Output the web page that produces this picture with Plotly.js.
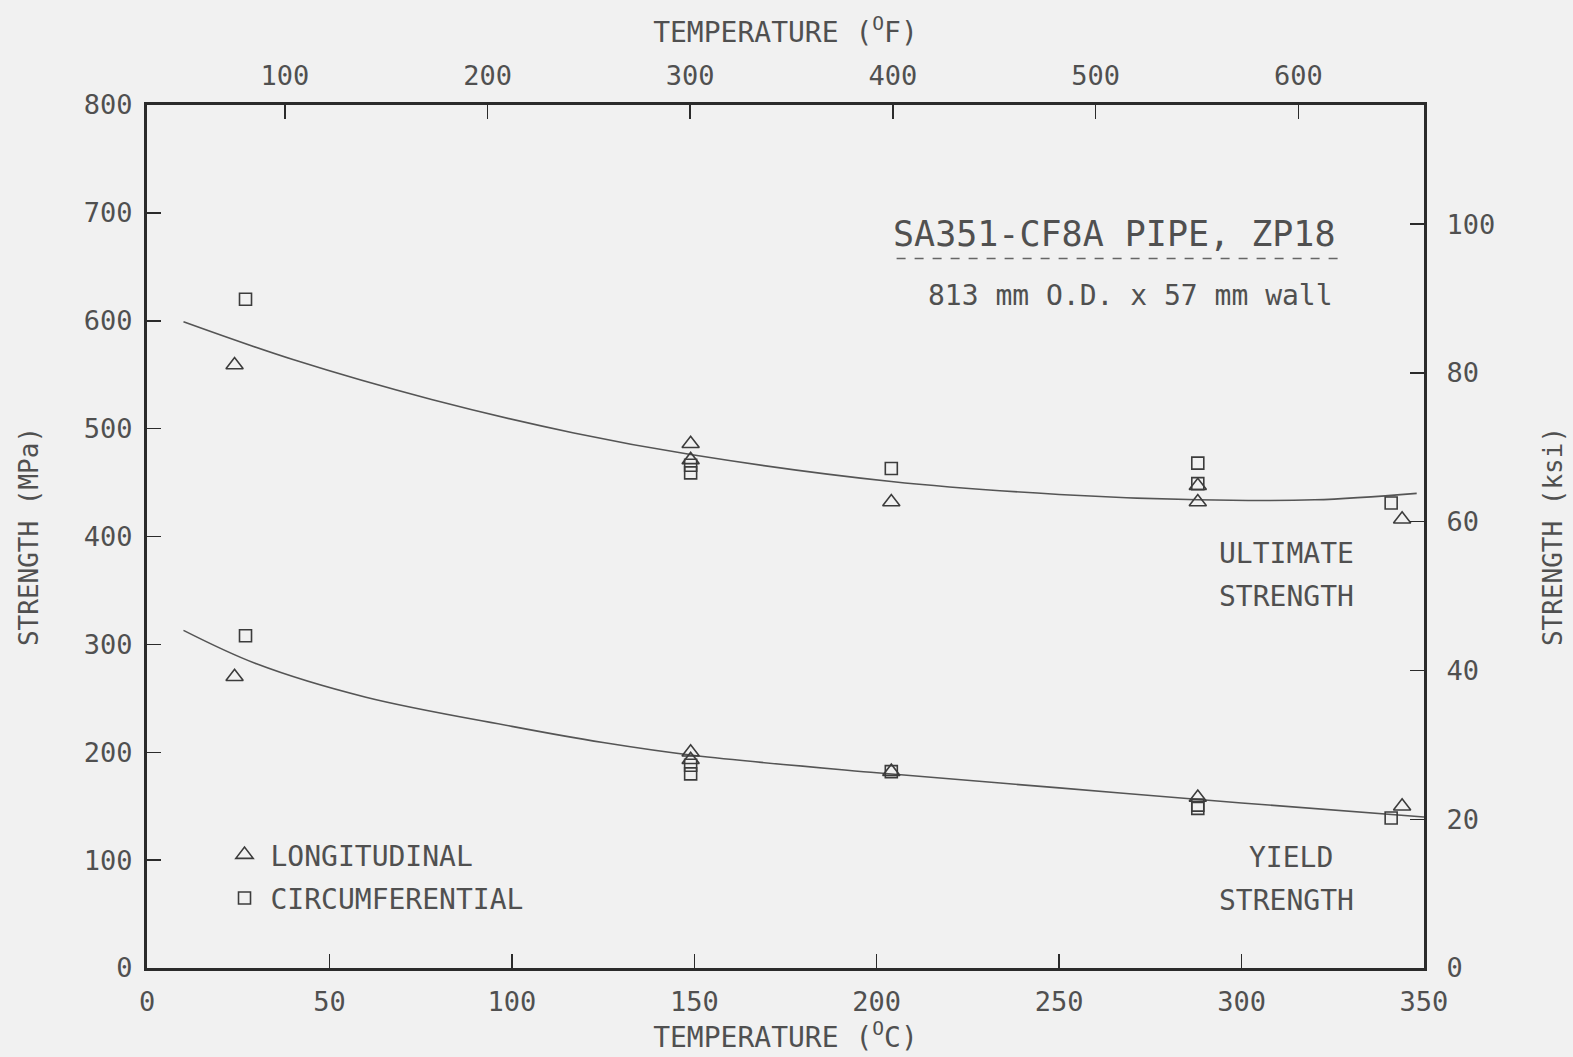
<!DOCTYPE html>
<html>
<head>
<meta charset="utf-8">
<script src="https://cdn.plot.ly/plotly-3.0.1.min.js"></script>
<style>
  html, body { margin: 0; padding: 0; background: #f1f1f1; }
  #chart { width: 1573px; height: 1057px; }
</style>
</head>
<body>
<div id="chart"></div>
<script>
// ---- Data ----
// Ultimate strength test points (MPa) vs temperature (deg C)
const longUltT   = [24, 149, 149, 204, 288, 288, 344];
const longUltS   = [559, 486, 471, 432, 447, 432, 416];
const circUltT   = [27, 149, 149, 204, 288, 288, 341];
const circUltS   = [620, 466, 459, 463, 468, 449, 431];
// Yield strength test points (MPa)
const longYldT   = [24, 149, 149, 204, 288, 344];
const longYldS   = [270, 200, 193, 182, 158, 150];
const circYldT   = [27, 149, 149, 204, 288, 288, 341];
const circYldS   = [308, 188, 180, 182, 151, 148, 139];
// Fitted curves
const ultCurveT  = [10, 40, 78, 117, 149, 204, 250, 288, 320, 348];
const ultCurveS  = [599, 564, 527, 496, 476, 451, 439, 434, 434, 440];
const yldCurveT  = [10, 30, 60, 100, 125, 150, 200, 250, 300, 350];
const yldCurveS  = [313, 282, 251, 224, 209, 197, 181, 167, 153, 140];
// Axis ticks
const cTicks   = [0, 50, 100, 150, 200, 250, 300, 350];
const fTicks   = [100, 200, 300, 400, 500, 600];
const mpaTicks = [0, 100, 200, 300, 400, 500, 600, 700, 800];
const ksiTicks = [0, 20, 40, 60, 80, 100];

// ---- Style ----
const FONT = "DejaVu Sans Mono";
const INK = "#505050";
const AXIS = "#2b2b2b";
const MARK = "#3c3c3c";
const cMin = 0, cMax = 350, sMin = 0, sMax = 800;
const toF = c => c * 9 / 5 + 32;
const MPA_PER_KSI = 6.894757;

const triMarker = {symbol: "triangle-up-open", size: 15, color: MARK, line: {width: 1.6, color: MARK}};
const sqMarker  = {symbol: "square-open", size: 12, color: MARK, line: {width: 1.6, color: MARK}};

const traces = [
  {x: ultCurveT, y: ultCurveS, mode: "lines", line: {shape: "spline", smoothing: 1, color: "#555", width: 1.6}, showlegend: false, hoverinfo: "skip"},
  {x: yldCurveT, y: yldCurveS, mode: "lines", line: {shape: "spline", smoothing: 1, color: "#555", width: 1.6}, showlegend: false, hoverinfo: "skip"},
  {x: longUltT, y: longUltS, mode: "markers", marker: triMarker, name: "LONGITUDINAL", legendgroup: "L", showlegend: true},
  {x: longYldT, y: longYldS, mode: "markers", marker: triMarker, name: "LONGITUDINAL", legendgroup: "L", showlegend: false},
  {x: circUltT, y: circUltS, mode: "markers", marker: sqMarker, name: "CIRCUMFERENTIAL", legendgroup: "C", showlegend: true},
  {x: circYldT, y: circYldS, mode: "markers", marker: sqMarker, name: "CIRCUMFERENTIAL", legendgroup: "C", showlegend: false},
  // empty carrier so the secondary (deg F / ksi) axes are drawn
  {x: [], y: [], xaxis: "x2", yaxis: "y2", mode: "markers", showlegend: false, hoverinfo: "skip"}
];

const tickFont = {family: FONT, size: 27, color: INK};
const titleFont = {family: FONT, size: 28, color: INK};

const layout = {
  width: 1573, height: 1057,
  paper_bgcolor: "#f1f1f1", plot_bgcolor: "#f1f1f1",
  margin: {l: 147, r: 149, t: 105, b: 89},
  font: {family: FONT, color: INK},
  showlegend: true,
  legend: {
    x: 0.056, y: 0.16, xanchor: "left", yanchor: "top",
    bgcolor: "rgba(0,0,0,0)", font: {family: FONT, size: 28, color: INK},
    traceorder: "grouped", tracegroupgap: 4, itemwidth: 42
  },
  xaxis: {
    range: [cMin, cMax], tickvals: cTicks, ticktext: cTicks.map(String),
    ticks: "inside", ticklen: 14, tickwidth: 1.5, tickcolor: AXIS,
    showline: true, linewidth: 3, linecolor: AXIS, showgrid: false, zeroline: false,
    tickfont: tickFont, ticklabelstandoff: 8,
    title: {text: "TEMPERATURE (<sup>O</sup>C)", font: titleFont, standoff: 2}
  },
  xaxis2: {
    overlaying: "x", side: "top", anchor: "y",
    range: [toF(cMin), toF(cMax)], tickvals: fTicks, ticktext: fTicks.map(String),
    ticks: "inside", ticklen: 14, tickwidth: 1.5, tickcolor: AXIS,
    showline: true, linewidth: 3, linecolor: AXIS, showgrid: false, zeroline: false,
    tickfont: tickFont, ticklabelstandoff: 6,
    title: {text: "TEMPERATURE (<sup>O</sup>F)", font: titleFont, standoff: 10}
  },
  yaxis: {
    range: [sMin, sMax], tickvals: mpaTicks, ticktext: mpaTicks.map(String),
    ticks: "inside", ticklen: 14, tickwidth: 1.5, tickcolor: AXIS,
    showline: true, linewidth: 3, linecolor: AXIS, showgrid: false, zeroline: false,
    tickfont: tickFont, ticklabelstandoff: 6,
    title: {text: "STRENGTH (MPa)", font: {family: FONT, size: 26, color: INK}, standoff: 38}
  },
  yaxis2: {
    overlaying: "y", side: "right", anchor: "x",
    range: [sMin / MPA_PER_KSI, sMax / MPA_PER_KSI], tickvals: ksiTicks, ticktext: ksiTicks.map(String),
    ticks: "inside", ticklen: 14, tickwidth: 1.5, tickcolor: AXIS,
    showline: true, linewidth: 3, linecolor: AXIS, showgrid: false, zeroline: false,
    tickfont: tickFont, ticklabelstandoff: 14,
    title: {text: "STRENGTH (ksi)", font: {family: FONT, size: 26, color: INK}, standoff: 50}
  },
  shapes: [
    {type: "line", xref: "paper", yref: "paper", x0: 0.587, x1: 0.933, y0: 0.822, y1: 0.822,
     line: {color: "#666", width: 1.5, dash: "dash"}}
  ],
  annotations: [
    {xref: "paper", yref: "paper", x: 0.933, y: 0.851, xanchor: "right", yanchor: "middle",
     text: "SA351-CF8A PIPE, ZP18", showarrow: false, font: {family: FONT, size: 35, color: INK}},
    {xref: "paper", yref: "paper", x: 0.930, y: 0.779, xanchor: "right", yanchor: "middle",
     text: "813 mm O.D. x 57 mm wall", showarrow: false, font: {family: FONT, size: 28, color: INK}},
    {xref: "paper", yref: "paper", x: 0.8925, y: 0.480, xanchor: "center", yanchor: "middle",
     text: "ULTIMATE", showarrow: false, font: {family: FONT, size: 28, color: INK}},
    {xref: "paper", yref: "paper", x: 0.8925, y: 0.430, xanchor: "center", yanchor: "middle",
     text: "STRENGTH", showarrow: false, font: {family: FONT, size: 28, color: INK}},
    {xref: "paper", yref: "paper", x: 0.896, y: 0.128, xanchor: "center", yanchor: "middle",
     text: "YIELD", showarrow: false, font: {family: FONT, size: 28, color: INK}},
    {xref: "paper", yref: "paper", x: 0.8925, y: 0.078, xanchor: "center", yanchor: "middle",
     text: "STRENGTH", showarrow: false, font: {family: FONT, size: 28, color: INK}}
  ]
};

Plotly.newPlot("chart", traces, layout, {displayModeBar: false, staticPlot: true});
</script>
</body>
</html>
